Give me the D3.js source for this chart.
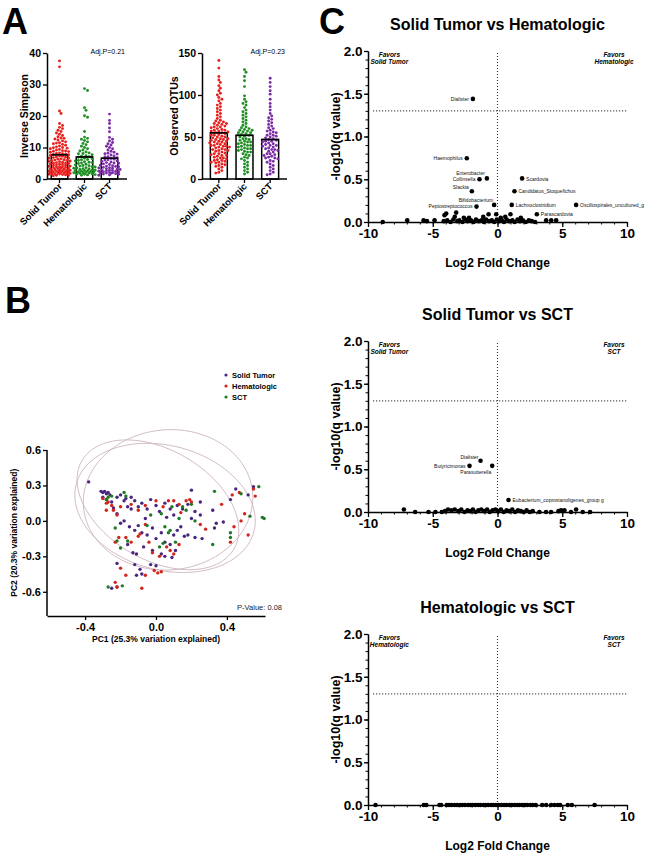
<!DOCTYPE html>
<html>
<head>
<meta charset="utf-8">
<script src="https://cdn.jsdelivr.net/npm/d3@7"></script>
<style>
  body { margin: 0; background: #fff; }
  svg { display: block; }
  text { font-family: Arial, "Liberation Sans", sans-serif; }
</style>
</head>
<body>
<svg id="fig" width="650" height="855"></svg>
<script>
// ---------- data ----------
const groups = ['Solid Tumor', 'Hematologic', 'SCT'];

// panel A: alpha diversity
const invSimpsonST = [37.5,35.6,21.6,20.8,17.6,17.0,16.4,16.0,15.5,15.1,14.6,14.2,13.8,13.4,13.0,12.7,12.4,12.1,11.8,11.5,11.2,11.0,10.7,10.5,10.2,10.0,9.8,9.6,9.4,9.2,9.0,8.8,8.7,8.5,8.3,8.1,8.0,7.8,7.7,7.5,7.3,7.2,7.0,6.9,6.7,6.6,6.4,6.3,6.1,6.0,5.9,5.7,5.6,5.5,5.3,5.2,5.1,5.0,4.8,4.7,4.6,4.5,4.4,4.3,4.1,4.0,3.9,3.8,3.7,3.6,3.5,3.4,3.3,3.2,3.1,3.0,2.9,2.8,2.8,2.7,2.6,2.5,2.5,2.4,2.3,2.2,2.2,2.1,2.0,2.0,1.9,1.8,1.8,1.7,1.6,1.5,1.5,1.4,1.3,1.2,1.1,1.0,12.9,11.4,9.9,8.9,7.9,6.8,5.8,4.9,3.9];
const invSimpsonHema = [28.7,28.1,22.6,21.8,20.1,19.6,15.1,13.3,12.9,12.6,12.2,11.8,11.3,10.9,10.4,10.0,9.6,9.2,8.9,8.6,8.3,8.0,7.7,7.4,7.1,6.9,6.6,6.4,6.1,5.9,5.7,5.5,5.3,5.1,4.9,4.7,4.5,4.3,4.1,3.9,3.8,3.6,3.5,3.3,3.2,3.0,2.9,2.8,2.7,2.6,2.5,2.4,2.3,2.2,2.1,2.0,1.9,1.8,1.7,1.6,1.5,1.4,1.3,1.2,8.1,7.2,6.2,5.2,4.2,3.4,2.6,2.0];
const invSimpsonSCT = [20.6,18.6,17.6,16.2,15.0,13.2,12.6,12.1,11.6,11.2,10.8,10.4,10.0,9.6,9.2,8.8,8.5,8.2,7.9,7.6,7.3,7.0,6.8,6.5,6.3,6.0,5.8,5.6,5.4,5.2,5.0,4.8,4.6,4.4,4.2,4.0,3.9,3.7,3.6,3.4,3.3,3.1,3.0,2.9,2.8,2.6,2.5,2.4,2.3,2.2,2.1,2.0,1.9,1.8,1.6,1.5,1.3,1.2,8.0,7.1,6.1,5.1,4.1,3.5,2.7,2.0,1.7];
const invSimpsonMean = [7.7, 7.0, 6.6];

const otusST = [141,132,122,118,115,111,108,105,102,100,97,95,93,90,88,86,84,82,80,78,76,74,72,70,69,68,67,66,65,64,63,62,61,60,59,58,57,56,55,54,53,52,51,50,50,49,48,47,46,45,45,44,43,42,41,40,40,39,38,37,36,35,35,34,33,32,31,30,30,29,28,27,26,25,25,24,23,22,21,20,20,19,18,17,16,15,14,12,10,8,7,62,58,55,52,48,44,42,38,34,28,22,66,57,47,39];
const otusHema = [130,127,122,117,110,99,95,92,90,88,85,82,80,78,76,74,72,70,68,66,64,62,61,60,59,58,57,56,55,54,53,52,51,50,48,47,46,45,44,43,42,41,40,39,38,37,36,35,34,33,32,30,29,28,26,25,24,22,20,18,16,14,12,10,8,6,58,55,48,44,40,36,32];
const otusSCT = [120,115,110,105,101,95,90,86,82,78,75,73,71,69,67,65,63,61,60,58,57,56,55,54,52,51,50,49,48,47,46,45,44,43,42,41,40,39,38,37,36,35,34,33,32,30,29,28,27,26,25,24,22,21,20,18,16,14,12,10,8,6,5,52,45,40,35,30,25];
const otusMean = [55, 52, 47];
const adjP = ['Adj.P=0.21', 'Adj.P=0.23'];

// panel B: PCoA coordinates [PC1, PC2]
const pcoaST = [[-0.38,0.33],[-0.31,0.25],[-0.30,0.24],[-0.29,0.25],[-0.28,0.23],[-0.27,0.24],[-0.26,0.22],[-0.30,0.20],[-0.28,0.18],[-0.25,0.16],[-0.22,0.20],[-0.20,0.22],[-0.18,0.17],[-0.17,0.19],[-0.16,0.12],[-0.14,0.10],[-0.12,0.17],[-0.10,0.12],[-0.08,0.15],[-0.05,0.10],[-0.03,0.18],[0.00,0.13],[0.02,0.08],[0.05,0.15],[0.08,0.10],[0.10,0.05],[0.12,0.13],[0.15,0.10],[0.18,0.14],[0.20,0.02],[0.22,0.08],[0.25,0.05],[0.20,0.26],[-0.22,0.06],[-0.20,-0.02],[-0.18,0.00],[-0.15,-0.05],[-0.12,-0.08],[-0.10,-0.04],[-0.08,-0.10],[-0.05,-0.12],[-0.02,-0.06],[0.00,-0.15],[0.03,-0.10],[0.05,-0.18],[0.08,-0.20],[0.10,-0.12],[0.12,-0.08],[0.14,-0.05],[0.06,0.03],[-0.06,0.02],[-0.16,-0.20],[-0.13,-0.27],[-0.11,-0.28],[-0.07,-0.22],[-0.02,-0.25],[0.03,-0.28],[0.05,-0.30],[0.09,-0.31],[0.11,-0.25],[0.16,-0.13],[0.18,-0.12],[-0.22,-0.36],[-0.12,-0.37],[-0.09,-0.41],[-0.08,-0.45],[-0.11,-0.46],[-0.03,-0.37],[0.00,-0.38],[-0.25,-0.57],[-0.22,-0.56],[0.26,-0.15],[0.33,-0.06],[0.34,-0.02],[0.32,0.09],[0.38,-0.01],[0.42,0.18],[0.52,0.22],[0.55,0.29],[0.45,0.27],[0.22,-0.14],[-0.24,0.11],[-0.14,0.20],[0.25,0.16]];
const pcoaHema = [[-0.30,0.19],[-0.28,0.15],[-0.27,0.16],[-0.25,0.13],[-0.24,0.09],[-0.22,0.05],[-0.20,0.12],[-0.14,0.14],[-0.10,0.09],[-0.06,0.13],[0.00,0.17],[0.04,0.12],[0.07,0.17],[0.10,0.17],[0.13,0.14],[0.17,0.17],[0.19,0.18],[0.14,0.07],[-0.23,-0.18],[-0.21,-0.14],[-0.17,-0.14],[-0.14,-0.18],[-0.10,-0.13],[-0.04,-0.18],[-0.02,-0.27],[0.02,-0.30],[0.06,-0.22],[0.08,-0.25],[0.10,-0.28],[0.13,-0.20],[-0.20,-0.40],[-0.17,-0.46],[-0.06,-0.46],[-0.01,-0.42],[0.01,-0.44],[0.03,-0.43],[-0.09,-0.11],[-0.23,-0.52],[-0.22,-0.56],[-0.08,-0.57],[0.25,-0.03],[0.28,-0.07],[0.37,0.14],[0.43,0.22],[0.47,0.24],[0.55,0.27],[0.56,0.21],[0.52,-0.12],[0.42,-0.18],[0.44,-0.05],[0.50,0.06],[0.48,0.00],[0.20,0.16],[-0.28,0.09],[-0.06,-0.03]];
const pcoaSCT = [[-0.28,0.18],[-0.27,0.20],[-0.25,0.21],[-0.18,0.24],[-0.17,0.21],[-0.23,-0.06],[-0.22,-0.17],[-0.20,-0.23],[-0.16,-0.17],[-0.05,-0.04],[0.03,0.06],[0.05,-0.05],[0.07,-0.10],[0.04,-0.19],[0.02,-0.22],[0.08,-0.08],[0.11,-0.18],[0.15,0.12],[0.17,0.09],[0.20,0.14],[0.22,0.00],[0.33,0.25],[0.32,-0.20],[0.42,-0.14],[0.42,-0.10],[0.48,0.23],[0.58,0.29],[0.60,0.03],[0.61,0.02],[0.53,0.04],[-0.27,-0.56],[-0.19,-0.55],[-0.03,0.05],[0.09,0.12],[0.13,0.02]];
// confidence ellipses: centre, two conjugate semi-axes (PC units)
const pcoaEllipses = [
  { c: [0.051, 0.110], u: [0.501, -0.202], v: [-0.090, -0.508] },
  { c: [0.068, 0.178], u: [0.477, 0.063], v: [0.034, -0.591] },
  { c: [0.011, 0.136], u: [0.429, -0.373], v: [-0.155, -0.403] }
];
const pcoaP = 'P-Value: 0.08';
const pcoaXLabel = 'PC1 (25.3% variation explained)';
const pcoaYLabel = 'PC2 (20.3% variation explained)';

// panel C: volcano plots [log2FC, -log10(q), label]
const stHemaLabeled = [[-1.9,1.44,'Dialister'],[-2.37,0.745,'Haemophilus'],[-0.82,0.51,'Enterobacter'],[-1.39,0.50,'Collinsella'],[-1.98,0.36,'Slackia'],[-0.26,0.20,'Bifidobacterium'],[-1.62,0.18,'Peptostreptococcus'],[1.9,0.51,'Scardovia'],[1.31,0.36,'Candidatus_Stoquefichus'],[1.1,0.20,'Lachnoclostridium'],[6.07,0.20,'Oscillospirales_uncultured_g'],[3.04,0.09,'Parascardovia']];
const stHemaOther = [[-8.86,0.0],[-6.97,0.02],[-5.71,0.02],[-5.45,0.01],[-4.86,0.02],[-4.09,0.08],[-3.96,0.10],[-3.19,0.11],[-2.6,0.05],[-0.69,0.09],[-0.1,0.09],[1.0,0.09],[3.76,0.02],[4.15,0.02],[4.53,0.02],[-4.15,0.01],[-3.88,0.02],[-3.62,0.0],[-3.41,0.03],[-3.1,0.01],[-2.95,0.02],[-2.71,0.0],[-2.48,0.03],[-2.3,0.01],[-2.05,0.02],[-1.85,0.0],[-1.66,0.03],[-1.45,0.01],[-1.22,0.02],[-1.05,0.0],[-0.88,0.03],[-0.65,0.01],[-0.44,0.02],[-0.25,0.0],[-0.05,0.03],[0.12,0.01],[0.33,0.02],[0.5,0.0],[0.71,0.03],[0.9,0.01],[1.15,0.02],[1.32,0.0],[1.55,0.03],[1.74,0.01],[1.96,0.02],[2.18,0.0],[2.42,0.02],[2.65,0.01],[2.9,0.0],[-3.3,0.06],[-2.2,0.05],[-1.1,0.06],[0.25,0.05],[0.6,0.06],[1.8,0.05]];
const stSctLabeled = [[-1.31,0.60,'Dialister'],[-2.16,0.54,'Butyricimonas'],[-0.41,0.54,'Parasutterella'],[0.85,0.14,'Eubacterium_coprostanoligenes_group g']];
const stSctOther = [[-7.23,0.03],[-6.36,0.0],[-5.33,0.0],[-4.79,0.0],[3.24,0.0],[3.75,0.0],[4.14,0.0],[4.71,0.01],[4.91,0.02],[5.17,0.02],[5.68,0.0],[6.07,0.03],[6.58,0.0],[7.15,0.0],[-4.3,0.0],[-4.05,0.01],[-3.82,0.03],[-3.55,0.02],[-3.3,0.03],[-3.02,0.01],[-2.8,0.03],[-2.55,0.0],[-2.32,0.02],[-2.1,0.01],[-1.9,0.03],[-1.7,0.0],[-1.48,0.02],[-1.25,0.03],[-1.02,0.01],[-0.8,0.03],[-0.6,0.0],[-0.38,0.02],[-0.16,0.03],[0.05,0.01],[0.26,0.03],[0.48,0.0],[0.7,0.02],[0.92,0.01],[1.14,0.03],[1.36,0.0],[1.58,0.02],[1.8,0.01],[2.02,0.0],[2.25,0.02],[2.5,0.0],[2.72,0.01]];
const hemaSctOther = [[-9.42,0],[-5.69,0],[-5.5,0],[-4.48,0],[-4.35,0],[-3.92,0],[-3.74,0],[-3.55,0],[-3.31,0],[-3.12,0],[-2.88,0],[-2.71,0],[-2.52,0],[-2.28,0],[-2.1,0],[-1.93,0],[-1.71,0],[-1.5,0],[-1.32,0],[-1.08,0],[-0.9,0],[-0.72,0],[-0.49,0],[-0.31,0],[-0.12,0],[0.08,0],[0.3,0],[0.51,0],[0.69,0],[0.92,0],[1.1,0],[1.31,0],[1.52,0],[1.7,0],[1.91,0],[2.12,0],[2.3,0],[2.55,0],[2.72,0],[2.95,0],[3.45,0],[3.76,0],[4.14,0],[4.4,0],[4.66,0],[4.84,0],[5.43,0],[5.74,0],[7.5,0]];
const volcanoTitles = ['Solid Tumor vs Hematologic', 'Solid Tumor vs SCT', 'Hematologic vs SCT'];
const favorsLeft = ['Solid Tumor', 'Solid Tumor', 'Hematologic'];
const favorsRight = ['Hematologic', 'SCT', 'SCT'];

// ---------- styles / layout ----------
const colA = ['#e8211f', '#1f8f24', '#7b2ca6'];
const colB = ['#4a2580', '#d1261e', '#1f7a22'];
const svg = d3.select('#fig');

function styleAxis(g, size) {
  g.select('.domain').attr('stroke', '#000').attr('stroke-width', 1.5);
  g.selectAll('.tick line').attr('stroke', '#000').attr('stroke-width', 1.3);
  g.selectAll('.tick text').attr('font-weight', 'bold').attr('font-size', size).attr('fill', '#000');
}
const fmt1 = d => d.toFixed(1);
const fmtInt = d => String(d);

// panel letters
[['A', 2, 34], ['B', 5, 313], ['C', 319, 34]].forEach(([t, x, y]) => {
  svg.append('text').attr('x', x).attr('y', y).text(t)
    .attr('font-size', 36).attr('font-weight', 'bold');
});

// ---------- panel A ----------
// simple beeswarm, spread capped; dots overlap where the cloud is dense
function swarm(vals, y, cx, r, maxOff) {
  const placed = [];
  const step = r * 1.05;
  const nSlots = Math.floor(maxOff / step) * 2 + 1;
  return vals.slice().sort((a, b) => b - a).map(v => {
    const py = y(v);
    let px = cx;
    outer:
    for (const minD of [2 * r, 1.5 * r, r, 0.5 * r, 0]) {
      for (let k = 0; k < nSlots; k++) {
        const off = k === 0 ? 0 : Math.ceil(k / 2) * (k % 2 ? 1 : -1) * step;
        const tx = cx + off;
        if (!placed.some(p => (p[0] - tx) ** 2 + (p[1] - py) ** 2 < minD * minD)) { px = tx; break outer; }
      }
    }
    placed.push([px, py]);
    return [px, py];
  });
}

function dotBar(opt) {
  const g = svg.append('g');
  const y = d3.scaleLinear().domain([0, opt.max]).range([179, 53]);
  const x = d3.scaleBand().domain(groups).range(opt.band).paddingInner(0.34).paddingOuter(0.17);

  g.selectAll('rect.bar').data(opt.means).join('rect')
    .attr('x', (d, i) => x(groups[i]))
    .attr('y', d => y(d))
    .attr('width', x.bandwidth())
    .attr('height', d => y(0) - y(d))
    .attr('fill', 'none').attr('stroke', '#000').attr('stroke-width', 1.5);

  opt.series.forEach((vals, i) => {
    const pts = swarm(vals, y, x(groups[i]) + x.bandwidth() / 2, 1.45, 11.5);
    g.append('g').selectAll('circle').data(pts).join('circle')
      .attr('cx', d => d[0]).attr('cy', d => d[1]).attr('r', 1.45)
      .attr('fill', colA[i]);
  });

  // mean line on top
  g.selectAll('line.mean').data(opt.means).join('line')
    .attr('x1', (d, i) => x(groups[i])).attr('x2', (d, i) => x(groups[i]) + x.bandwidth())
    .attr('y1', d => y(d)).attr('y2', d => y(d))
    .attr('stroke', '#000').attr('stroke-width', 1.6);

  const ay = g.append('g').attr('transform', `translate(${opt.x0},0)`)
    .call(d3.axisLeft(y).tickValues(opt.ticks).tickFormat(fmtInt).tickSize(4).tickPadding(2).tickSizeOuter(0));
  styleAxis(ay, 10.5);

  g.append('line').attr('x1', opt.x0).attr('x2', opt.x1).attr('y1', y(0)).attr('y2', y(0))
    .attr('stroke', '#000').attr('stroke-width', 1.5);
  groups.forEach(c => {
    const cx = x(c) + x.bandwidth() / 2;
    g.append('line').attr('x1', cx).attr('x2', cx).attr('y1', y(0)).attr('y2', y(0) + 4)
      .attr('stroke', '#000').attr('stroke-width', 1.3);
    g.append('text').text(c)
      .attr('transform', `translate(${cx + 3},${y(0) + 8}) rotate(-45)`)
      .attr('text-anchor', 'end').attr('font-size', 9.5).attr('font-weight', 'bold');
  });

  g.append('text').text(opt.label)
    .attr('transform', `translate(${opt.x0 - opt.labelGap},${(y(0) + y(opt.max)) / 2}) rotate(-90)`)
    .attr('text-anchor', 'middle').attr('font-size', 10.5).attr('font-weight', 'bold');
  g.append('text').text(opt.p).attr('x', opt.x1 - 2).attr('y', 54)
    .attr('text-anchor', 'end').attr('font-size', 7).attr('fill', '#000');
}

dotBar({ series: [invSimpsonST, invSimpsonHema, invSimpsonSCT], means: invSimpsonMean, max: 40,
  ticks: [0, 10, 20, 30, 40], band: [47, 122], x0: 47, x1: 127, labelGap: 19,
  label: 'Inverse Simpson', p: adjP[0] });
dotBar({ series: [otusST, otusHema, otusSCT], means: otusMean, max: 150,
  ticks: [0, 50, 100, 150], band: [206, 283], x0: 202, x1: 287, labelGap: 24,
  label: 'Observed OTUs', p: adjP[1] });

// ---------- panel B ----------
{
  const g = svg.append('g');
  const x = d3.scaleLinear().domain([-0.615, 0.615]).range([47, 265]);
  const y = d3.scaleLinear().domain([-0.805, 0.6]).range([616, 450]);

  const line = d3.line().x(d => x(d[0])).y(d => y(d[1])).curve(d3.curveLinearClosed);
  const angles = d3.range(0, 2 * Math.PI, Math.PI / 90);
  g.selectAll('path.ell').data(pcoaEllipses).join('path')
    .attr('d', e => line(angles.map(t => [
      e.c[0] + e.u[0] * Math.cos(t) + e.v[0] * Math.sin(t),
      e.c[1] + e.u[1] * Math.cos(t) + e.v[1] * Math.sin(t)])))
    .attr('fill', 'none').attr('stroke', '#cdb3c0').attr('stroke-width', 0.9);

  [pcoaST, pcoaHema, pcoaSCT].forEach((pts, i) => {
    g.append('g').selectAll('circle').data(pts).join('circle')
      .attr('cx', d => x(d[0])).attr('cy', d => y(d[1])).attr('r', 1.7)
      .attr('fill', colB[i]);
  });

  const ay = g.append('g').attr('transform', 'translate(47,0)')
    .call(d3.axisLeft(y).tickValues([-0.6, -0.3, 0, 0.3, 0.6]).tickFormat(fmt1).tickSize(4).tickPadding(2).tickSizeOuter(0));
  styleAxis(ay, 11);
  ay.select('.domain').attr('d', `M0,${y(0.6)}V616`);
  const ax = g.append('g').attr('transform', 'translate(0,616)')
    .call(d3.axisBottom(x).tickValues([-0.4, 0, 0.4]).tickFormat(fmt1).tickSize(4).tickSizeOuter(0));
  styleAxis(ax, 11);

  g.append('text').text(pcoaXLabel).attr('x', 156).attr('y', 642)
    .attr('text-anchor', 'middle').attr('font-size', 8.5).attr('font-weight', 'bold');
  g.append('text').text(pcoaYLabel)
    .attr('transform', `translate(17,${y(-0.1)}) rotate(-90)`)
    .attr('text-anchor', 'middle').attr('font-size', 8.5).attr('font-weight', 'bold');
  g.append('text').text(pcoaP).attr('x', 282).attr('y', 610)
    .attr('text-anchor', 'end').attr('font-size', 7.5).attr('fill', '#222');

  groups.forEach((c, i) => {
    const ly = 375 + i * 11;
    g.append('circle').attr('cx', 226).attr('cy', ly).attr('r', 1.6).attr('fill', colB[i]);
    g.append('text').text(c).attr('x', 232).attr('y', ly + 2.6)
      .attr('font-size', 7.5).attr('font-weight', 'bold');
  });
}

// ---------- panel C ----------
const labelOffsets = [
  { Dialister: ['end', -4, 0], Haemophilus: ['end', -4, 0], Enterobacter: ['end', -2, -5],
    Collinsella: ['end', -4, 0], Slackia: ['end', -3, -4], Bifidobacterium: ['end', -1, -4.5],
    Peptostreptococcus: ['end', -4, 0], Scardovia: ['start', 4, 0.5],
    Candidatus_Stoquefichus: ['start', 4, 0], Lachnoclostridium: ['start', 4, 0],
    Oscillospirales_uncultured_g: ['start', 4, 0], Parascardovia: ['start', 4, 0] },
  { Dialister: ['end', -2, -4], Butyricimonas: ['end', -4, 0], Parasutterella: ['end', -1, 6],
    'Eubacterium_coprostanoligenes_group g': ['start', 4, 0] },
  {}
];

function volcano(k, top, others, labeled) {
  const g = svg.append('g');
  const x = d3.scaleLinear().domain([-10, 10]).range([368, 627]);
  const y = d3.scaleLinear().domain([0, 2]).range([top + 171, top]);

  g.append('text').text(volcanoTitles[k]).attr('x', x(0)).attr('y', top - 21)
    .attr('text-anchor', 'middle').attr('font-size', 16).attr('font-weight', 'bold');

  // reference lines
  g.append('line').attr('x1', x(-9.6)).attr('x2', x(10)).attr('y1', y(1.3)).attr('y2', y(1.3))
    .attr('stroke', '#333').attr('stroke-width', 1.1).attr('stroke-dasharray', '1,2');
  g.append('line').attr('x1', x(0)).attr('x2', x(0)).attr('y1', y(0)).attr('y2', y(2))
    .attr('stroke', '#333').attr('stroke-width', 1.1).attr('stroke-dasharray', '1,2');

  // minor ticks
  const mx = g.append('g').attr('transform', `translate(0,${y(0)})`)
    .call(d3.axisBottom(x).tickValues(d3.range(-10, 11, 1)).tickFormat('').tickSize(2.5).tickSizeOuter(0));
  mx.selectAll('.tick line').attr('stroke', '#000');
  const my = g.append('g').attr('transform', `translate(${x(-10)},0)`)
    .call(d3.axisLeft(y).tickValues(d3.range(0, 21, 1).map(d => d / 10)).tickFormat('').tickSize(2.5).tickSizeOuter(0));
  my.selectAll('.tick line').attr('stroke', '#000');

  const ax = g.append('g').attr('transform', `translate(0,${y(0)})`)
    .call(d3.axisBottom(x).tickValues([-10, -5, 0, 5, 10]).tickFormat(fmtInt).tickSize(5).tickSizeOuter(0));
  styleAxis(ax, 13.5);
  ax.selectAll('.tick text').attr('dy', '0.6em');
  const ay = g.append('g').attr('transform', `translate(${x(-10)},0)`)
    .call(d3.axisLeft(y).tickValues([0, 0.5, 1, 1.5, 2]).tickFormat(fmt1).tickSize(4).tickPadding(1.5).tickSizeOuter(0));
  styleAxis(ay, 13.5);

  g.append('text').text('Log2 Fold Change').attr('x', x(0)).attr('y', y(0) + 45)
    .attr('text-anchor', 'middle').attr('font-size', 12).attr('font-weight', 'bold');
  g.append('text').text('-log10(q value)')
    .attr('transform', `translate(340,${y(1)}) rotate(-90)`)
    .attr('text-anchor', 'middle').attr('font-size', 12.5).attr('font-weight', 'bold');

  [[favorsLeft[k], x(-8.35)], [favorsRight[k], x(9)]].forEach(([t, cx]) => {
    const f = g.append('text').attr('text-anchor', 'middle').attr('font-size', 6.5)
      .attr('font-weight', 'bold').attr('font-style', 'italic');
    f.append('tspan').attr('x', cx).attr('y', top + 6).text('Favors');
    f.append('tspan').attr('x', cx).attr('y', top + 13).text(t);
  });

  g.append('g').selectAll('circle').data(others.concat(labeled)).join('circle')
    .attr('cx', d => x(d[0])).attr('cy', d => y(d[1])).attr('r', 2.3).attr('fill', '#000');

  g.append('g').selectAll('text').data(labeled).join('text')
    .text(d => d[2])
    .attr('text-anchor', d => labelOffsets[k][d[2]][0])
    .attr('x', d => x(d[0]) + labelOffsets[k][d[2]][1])
    .attr('y', d => y(d[1]) + labelOffsets[k][d[2]][2] + 1.8)
    .attr('font-size', 5).attr('fill', '#111');
}

volcano(0, 51, stHemaOther, stHemaLabeled);
volcano(1, 341, stSctOther, stSctLabeled);
volcano(2, 634, hemaSctOther, []);
</script>
</body>
</html>
